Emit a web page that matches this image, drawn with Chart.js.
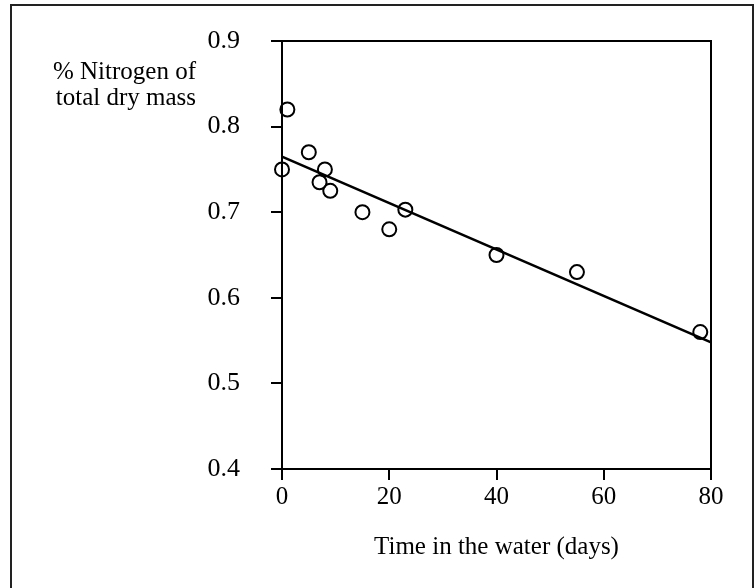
<!DOCTYPE html>
<html>
<head>
<meta charset="utf-8">
<script src="https://cdn.jsdelivr.net/npm/chart.js@4.4.1/dist/chart.umd.min.js"></script>
<style>
  html, body { margin: 0; padding: 0; background: #fff; }
  canvas { display: block; }
</style>
</head>
<body>
<canvas id="nitrogen" width="754" height="588"></canvas>
<script>
// days in the water and % nitrogen
var days = [0, 1, 5, 7, 8, 9, 15, 20, 23, 40, 55, 78];
var nitrogen = [0.75, 0.82, 0.77, 0.735, 0.75, 0.725, 0.70, 0.68, 0.703, 0.65, 0.63, 0.56];
// fitted line end points
var fitDays = [0, 80];
var fitNitrogen = [0.765, 0.548];
var yTitle = ['% Nitrogen of', 'total dry mass'];
var xTitle = 'Time in the water (days)';

var serif = "'Liberation Serif', 'Times New Roman', serif";

let points = [];
days.forEach((d, i) => { points.push({x: d, y: nitrogen[i]}); });
let fit = [];
fitDays.forEach((d, i) => { fit.push({x: d, y: fitNitrogen[i]}); });

const frame = {
    id: 'frame',
    afterDraw(chart) {
        const ctx = chart.ctx;
        const a = chart.chartArea;
        ctx.save();
        ctx.strokeStyle = '#000';
        ctx.lineWidth = 2;
        ctx.beginPath();
        ctx.moveTo(a.left, a.top);
        ctx.lineTo(a.right, a.top);
        ctx.lineTo(a.right, a.bottom);
        ctx.stroke();
        // outer box
        ctx.strokeStyle = '#222';
        ctx.strokeRect(11, 5, 742, 600);
        // y title, horizontal, top left
        ctx.fillStyle = '#000';
        ctx.font = '25px ' + serif;
        ctx.textAlign = 'right';
        ctx.textBaseline = 'alphabetic';
        ctx.fillText(yTitle[0], 196, 79);
        ctx.fillText(yTitle[1], 196, 105);
        ctx.restore();
    }
};

new Chart(document.getElementById('nitrogen'), {
    type: 'scatter',
    data: {
        datasets: [{
            type: 'line',
            data: fit,
            borderColor: '#000',
            borderWidth: 2.5,
            pointRadius: 0,
            fill: false
        }, {
            data: points,
            borderColor: '#000',
            backgroundColor: 'rgba(0,0,0,0)',
            borderWidth: 2,
            pointRadius: 7,
            clip: false
        }]
    },
    options: {
        responsive: false,
        animation: false,
        events: [],
        layout: {
            padding: { left: 0, top: 41, right: 43, bottom: 0 }
        },
        plugins: {
            legend: { display: false },
            tooltip: { enabled: false }
        },
        scales: {
            x: {
                type: 'linear',
                min: 0,
                max: 80,
                ticks: {
                    stepSize: 20,
                    color: '#000',
                    padding: 2,
                    font: { family: serif, size: 25 }
                },
                grid: { drawOnChartArea: false, tickLength: 11, color: '#000', lineWidth: 2 },
                border: { color: '#000', width: 2 },
                title: {
                    display: true,
                    text: xTitle,
                    color: '#000',
                    font: { family: serif, size: 25 },
                    padding: { top: 0, bottom: 26 }
                },
                afterFit: (scale) => { scale.height = 119; }
            },
            y: {
                min: 0.4,
                max: 0.9,
                ticks: {
                    stepSize: 0.1,
                    color: '#000',
                    padding: 31,
                    font: { family: serif, size: 26 },
                    callback: (v) => v.toFixed(1)
                },
                grid: { drawOnChartArea: false, tickLength: 11, color: '#000', lineWidth: 2 },
                border: { color: '#000', width: 2 },
                afterFit: (scale) => {
                    scale.width = 282;
                    // label gap shouldn't push the plot down
                    scale.paddingTop = 0;
                    scale.paddingBottom = 0;
                }
            }
        }
    },
    plugins: [frame]
});
</script>
</body>
</html>
